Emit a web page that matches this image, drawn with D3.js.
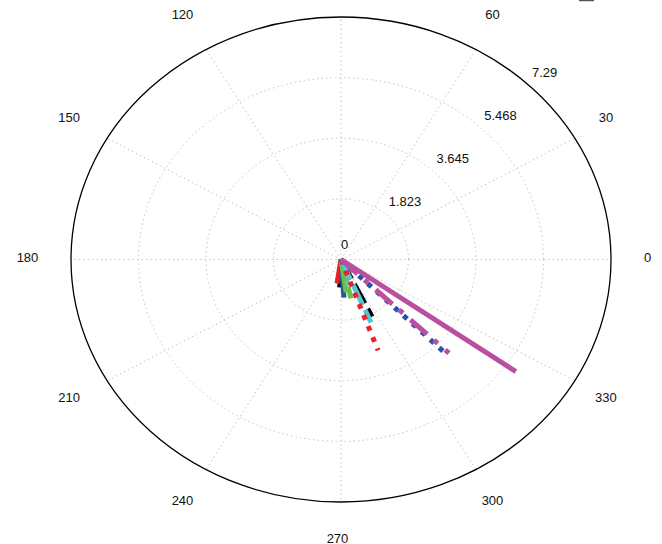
<!DOCTYPE html>
<html>
<head>
<meta charset="utf-8">
<script src="https://cdn.jsdelivr.net/npm/d3@7"></script>
<style>
html,body{margin:0;padding:0;background:#fff;}
svg{display:block;font-family:"Liberation Sans",Arial,sans-serif;}
</style>
</head>
<body>
<svg id="chart" width="662" height="544"></svg>
<script>
// ---- data ----
const angleTicks = [0, 30, 60, 90, 120, 150, 180, 210, 240, 270, 300, 330];
const angleLabels = ["0", "30", "60", "", "120", "150", "180", "210", "240", "270", "300", "330"];
const radialTicks = [0, 1.823, 3.645, 5.468, 7.29];
const radialTickLabels = ["0", "1.823", "3.645", "5.468", "7.29"];
const rMax = 7.29;

// series: each one is a ray from the origin (compass style)
const seriesColor = ["black", "red", "blue", "green", "cyan", "green", "black", "cyan", "red", "blue", "magenta", "magenta"];
const seriesStyle = ["solid", "solid", "solid", "solid", "solid", "dashed", "dashed", "dashed", "dotted", "dotted", "dashdot", "solid"];
const seriesR     = [0.84, 0.73, 1.15, 1.00, 0.80, 1.20, 1.91, 2.06, 2.91, 4.00, 4.05, 5.80];
const seriesTheta = [267.7, 261.5, 274, 278, 284, 283, 296, 293.2, 290.1, 315, 316, 324.5];

const palette = {
  black: "#000000", red: "#ee2027", blue: "#2b52a5", green: "#6bbf47",
  cyan: "#56c5d6", magenta: "#b94fa1"
};
const dashes = { solid: null, dashed: "22,6", dotted: "5,7", dashdot: "22,9,5,10" };

// ---- layout ----
const svg = d3.select("#chart");
const cx = 341, cy = 259.5, rx = 270, ry = 242.5;
const x = d3.scaleLinear().domain([-rMax, rMax]).range([cx - rx, cx + rx]);
const y = d3.scaleLinear().domain([-rMax, rMax]).range([cy + ry, cy - ry]);
const rad = d => d * Math.PI / 180;

const grid = svg.append("g");
// spokes
grid.selectAll("line.spoke").data(angleTicks).enter().append("line")
  .attr("x1", x(0)).attr("y1", y(0))
  .attr("x2", d => x(rMax * Math.cos(rad(d))))
  .attr("y2", d => y(rMax * Math.sin(rad(d))))
  .attr("stroke", "#c4c4c4").attr("stroke-width", 1)
  .attr("stroke-dasharray", "1.5,3");
// inner rings
grid.selectAll("ellipse.ring").data(radialTicks.slice(1, -1)).enter().append("ellipse")
  .attr("cx", x(0)).attr("cy", y(0))
  .attr("rx", d => x(d) - x(0)).attr("ry", d => y(0) - y(d))
  .attr("fill", "none").attr("stroke", "#c4c4c4").attr("stroke-width", 1)
  .attr("stroke-dasharray", "1.5,3");
// outer ring
svg.append("ellipse")
  .attr("cx", x(0)).attr("cy", y(0))
  .attr("rx", x(rMax) - x(0)).attr("ry", y(0) - y(rMax))
  .attr("fill", "none").attr("stroke", "#000").attr("stroke-width", 1.3);

// series rays
const data = seriesR.map((r, i) => ({ r, t: seriesTheta[i], c: palette[seriesColor[i]], s: seriesStyle[i] }));
svg.append("g").selectAll("line.ray").data(data).enter().append("line")
  .attr("x1", x(0)).attr("y1", y(0))
  .attr("x2", d => x(d.r * Math.cos(rad(d.t))))
  .attr("y2", d => y(d.r * Math.sin(rad(d.t))))
  .attr("stroke", d => d.c).attr("stroke-width", 5)
  .attr("stroke-dasharray", d => dashes[d.s])
  .attr("stroke-linecap", "butt");

// angle labels (90 lies outside the visible area)
svg.append("g").selectAll("text").data(angleTicks.filter((d, i) => angleLabels[i] !== "")).enter().append("text")
  .attr("x", d => cx - 3.5 + (rx + 40) * Math.cos(rad(d)))
  .attr("y", d => cy - 2 - (ry + 38) * Math.sin(rad(d)))
  .attr("text-anchor", "middle").attr("dominant-baseline", "central")
  .attr("font-size", 13).attr("fill", "#111")
  .text(d => angleLabels[angleTicks.indexOf(d)]);

// radial labels at 45 degrees
svg.append("g").selectAll("text").data(radialTicks).enter().append("text")
  .attr("x", d => x(d * Math.cos(rad(45))))
  .attr("y", d => y(d * Math.sin(rad(45))) - 11)
  .attr("text-anchor", "start")
  .attr("font-size", 13).attr("fill", "#111")
  .text((d, i) => radialTickLabels[i]);

// clipped legend fragment at top right
svg.append("line").attr("x1", 579).attr("x2", 594).attr("y1", 0.5).attr("y2", 0.5)
  .attr("stroke", "#555").attr("stroke-width", 1.5);
</script>
</body>
</html>
